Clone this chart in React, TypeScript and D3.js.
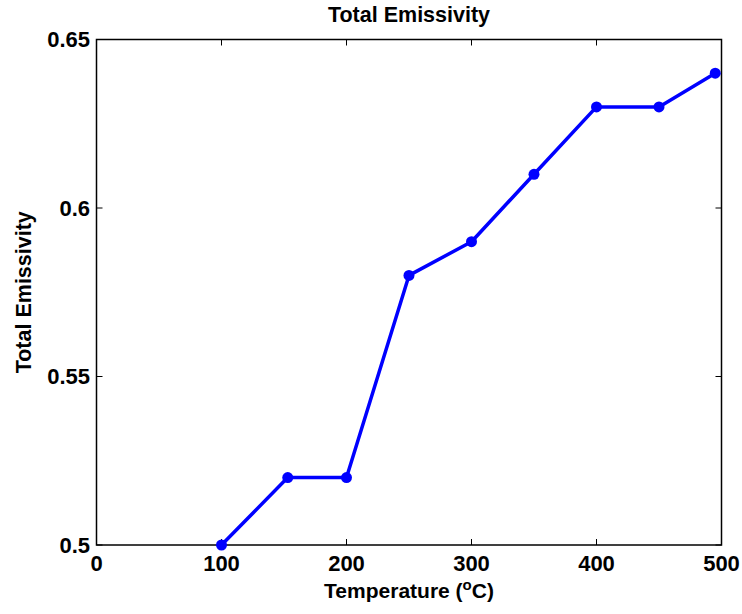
import React from "react";
import * as d3 from "d3";

const temperatures = [100, 153, 200, 250, 300, 350, 400, 450, 495];
const emissivity = [0.5, 0.52, 0.52, 0.58, 0.59, 0.61, 0.63, 0.63, 0.64];
const xTicks = [0, 100, 200, 300, 400, 500];
const yTicks = [0.5, 0.55, 0.6, 0.65];
const yTickLabels = ["0.5", "0.55", "0.6", "0.65"];

const W = 742, H = 614;
const L = 96.5, R = 721.5, T = 39.5, B = 545;
const FONT = "'Liberation Sans', Arial, sans-serif";

export default function App() {
  const x = d3.scaleLinear().domain([0, 500]).range([L, R]);
  const y = d3.scaleLinear().domain([0.5, 0.65]).range([B, T]);
  const pts = temperatures.map((t, i) => [t, emissivity[i]] as [number, number]);
  const line = d3.line<[number, number]>().x(d => x(d[0])).y(d => y(d[1]));
  const tl = 6;
  return (
    <svg width={W} height={H} style={{ position: "absolute", left: 0, top: 0 }} fontFamily={FONT} fontWeight="bold">
      <rect x={0} y={0} width={W} height={H} fill="#fff" />
      {xTicks.map(t => (
        <g key={"xt" + t}>
          <line x1={x(t)} x2={x(t)} y1={B} y2={B - tl} stroke="#000" strokeWidth={1} />
          <line x1={x(t)} x2={x(t)} y1={T} y2={T + tl} stroke="#000" strokeWidth={1} />
          <text x={x(t)} y={571} textAnchor="middle" fontSize={22}>{t}</text>
        </g>
      ))}
      {yTicks.map((t, i) => (
        <g key={"yt" + t}>
          <line x1={L} x2={L + tl} y1={y(t)} y2={y(t)} stroke="#000" strokeWidth={1} />
          <line x1={R} x2={R - tl} y1={y(t)} y2={y(t)} stroke="#000" strokeWidth={1} />
          <text x={90} y={y(t) + 7.5} textAnchor="end" fontSize={22}>{yTickLabels[i]}</text>
        </g>
      ))}
      <rect x={L} y={T} width={R - L} height={B - T} fill="none" stroke="#000" strokeWidth={1.5} />
      <path d={line(pts) || ""} fill="none" stroke="#0000ff" strokeWidth={3.5} strokeLinejoin="round" />
      {pts.map((p, i) => (
        <circle key={i} cx={x(p[0])} cy={y(p[1])} r={5.5} fill="#0000ff" />
      ))}
      <text x={(L + R) / 2} y={21.5} textAnchor="middle" fontSize={21.5}>Total Emissivity</text>
      <text x={(L + R) / 2} y={598} textAnchor="middle" fontSize={21}>
        Temperature (<tspan dy={-8} fontSize={15}>o</tspan><tspan dy={8}>C)</tspan>
      </text>
      <text transform={`translate(31,${(T + B) / 2}) rotate(-90)`} textAnchor="middle" fontSize={21.5}>Total Emissivity</text>
    </svg>
  );
}
